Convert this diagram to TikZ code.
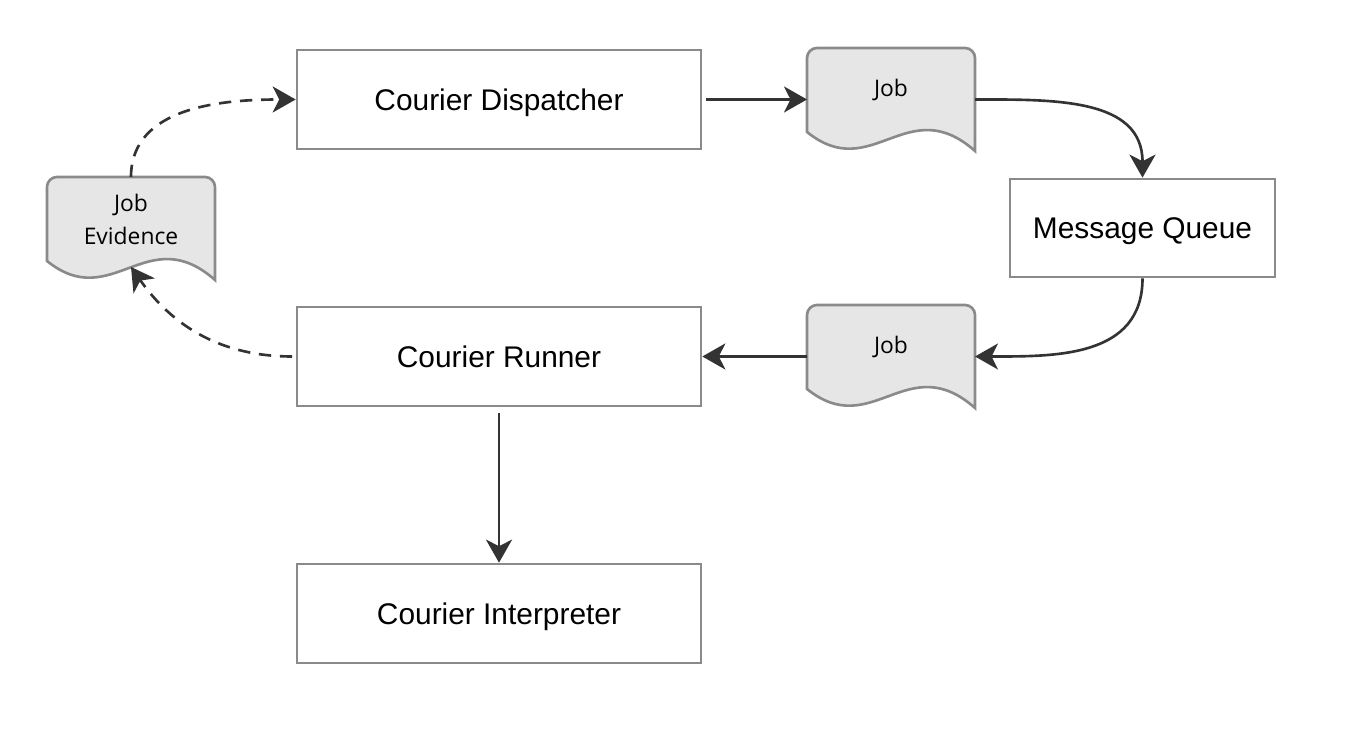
\documentclass[tikz,border=0pt]{standalone}
\usepackage{fontspec}
\setmainfont{Liberation Sans}
\newfontfamily\docfont{Open Sans}
\usetikzlibrary{arrows.meta,calc,backgrounds}
\definecolor{edge}{HTML}{333333}
\definecolor{frame}{HTML}{8A8A8A}
\definecolor{paper}{HTML}{E6E6E6}
\tikzset{
  flow/.style={-{Stealth[length=4.6mm, width=5.2mm, inset=1.3mm]}, line width=1.5pt, edge},
  back/.style={flow, dash pattern=on 7pt off 5pt},
  unit/.style={draw=frame, line width=1.5pt, fill=white, minimum width=8.08cm,
    minimum height=1.98cm, inner sep=0pt, text height=16.2pt, text depth=4pt,
    font=\fontsize{17}{20}\selectfont},
  queue/.style={unit, minimum width=5.30cm, minimum height=1.96cm},
  doc/.style={minimum width=3.36cm, minimum height=1.68cm, inner sep=0pt, outer sep=0pt,
    align=center, font=\docfont\fontsize{13}{18.8}\selectfont},
  docline/.style={draw=frame, line width=1.5pt, fill=paper},
}
% paper sheet with wavy lower edge behind a doc node
\newcommand{\docbody}[1]{%
  \begin{pgfonlayer}{background}
    \draw[docline] (#1.south west) -- ($(#1.north west)+(0,-0.2)$)
      arc[start angle=180, end angle=90, radius=0.2]
      -- ($(#1.north east)+(-0.2,0)$)
      arc[start angle=90, end angle=0, radius=0.2]
      -- ($(#1.south east)+(0,-0.38)$)
      .. controls ($(#1.south west)+(2.0,0.82)$) and ($(#1.south west)+(1.3,-1.05)$) .. (#1.south west)
      -- cycle;
  \end{pgfonlayer}}

\begin{document}
\begin{tikzpicture}[x=1cm,y=1cm]
\useasboundingbox (0,0) rectangle (26.94,14.82);

% ===================== courier boxes =====================
\node[unit] (disp) at (9.98,12.83) {Courier Dispatcher};
\node[unit] (runner) at (9.98,7.69) {Courier Runner};
\node[unit] (interp) at (9.98,2.55) {Courier Interpreter};
\node[queue] (mq) at (22.85,10.26) {Message Queue};

% ===================== job documents =====================
\node[doc] (jobA) at (17.82,13.02) {Job};
\docbody{jobA}
\node[doc] (jobB) at (17.82,7.88) {Job};
\docbody{jobB}
\node[doc] (ev) at (2.62,10.44) {Job\\Evidence};
\docbody{ev}
\coordinate (evwave) at ($(ev.south)+(0,-0.12)$);

% ===================== connectors =====================
\draw[flow, shorten <=2pt] (disp.east) -- (disp -| jobA.west);
\draw[flow] (jobA.east |- disp) to[out=0, in=90, looseness=1.1] (mq.north);
\draw[flow] (mq.south) to[out=-90, in=0, looseness=1.1] (jobB.east |- runner);
\draw[flow] (jobB.west |- runner) -- (runner.east);
\draw[flow, shorten <=3pt] (runner.south) -- (interp.north);
\draw[back, shorten <=2pt] (runner.west) to[out=180, in=-55] (evwave);
\draw[back] (ev.north) to[out=90, in=180] (disp.west);

\end{tikzpicture}
\end{document}
